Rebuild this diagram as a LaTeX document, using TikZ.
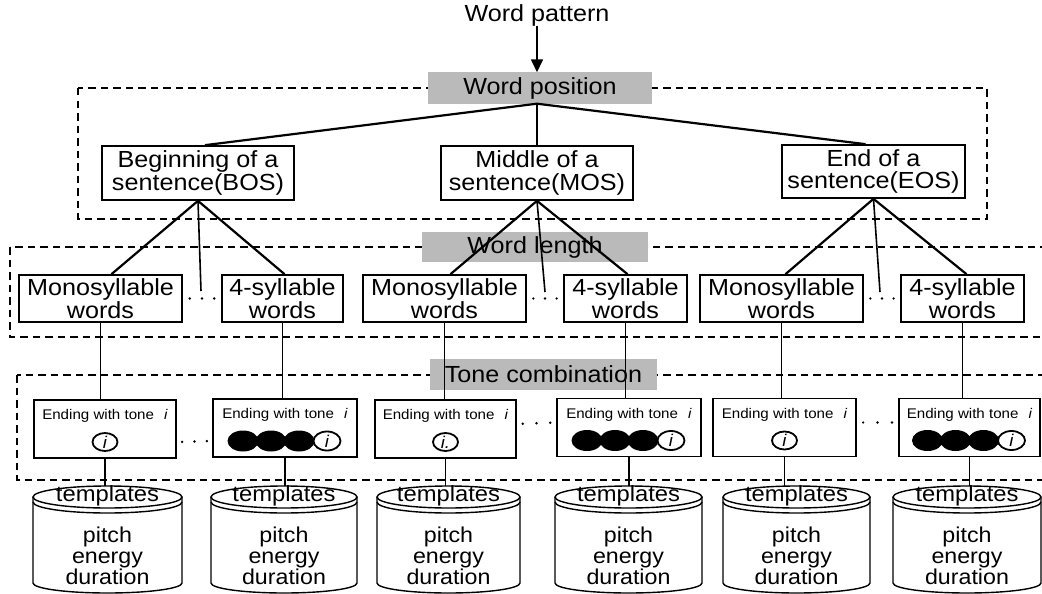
\documentclass[tikz,border=0pt]{standalone}
\usepackage{fontspec}
\setmainfont{Liberation Sans}[FakeStretch=1.08]
\usetikzlibrary{arrows.meta,calc}
\newcommand\dbcyl[3]{%
  \begin{scope}[shift={(#2,0)}]
    \fill[white] (-#3,497) -- (-#3,583) arc[start angle=180,end angle=0,x radius=#3,y radius=10] -- (#3,497) -- cycle;
    \draw[line width=1.4pt,fill=white] (0,497) ellipse [x radius=#3, y radius=11];
    \draw[line width=1.4pt] (-#3,497) -- (-#3,583) arc[start angle=180,end angle=0,x radius=#3,y radius=10] -- (#3,497);
    \draw[line width=1.4pt] (-#3,502) arc[start angle=180,end angle=0,x radius=#3,y radius=11];
  \end{scope}
  \coordinate (#1) at (#2,486);
  \node[cyltext, font=\fontsize{22}{21}\selectfont] (#1t) at (#2,496) {templates};
  \node[cyltext] (#1b) at (#2,556) {pitch\\energy\\duration};
}
\newcommand\onering[1]{%
  \draw[line width=1.8pt,fill=white] ($(#1.center)+(0,13)$) ellipse [x radius=12.5, y radius=9];
  \node[font=\fontsize{17}{17}\selectfont\itshape,inner sep=0pt] at ($(#1.center)+(0,13)$) {i};
}
\newcommand\fourring[1]{%
  \foreach \dx in {-42,-14,14} \fill ($(#1.center)+(\dx,13)$) ellipse [x radius=15.5, y radius=10.5];
  \draw[line width=1.8pt,fill=white] ($(#1.center)+(42,13)$) ellipse [x radius=13.5, y radius=9.5];
  \node[font=\fontsize{17}{17}\selectfont\itshape,inner sep=0pt] at ($(#1.center)+(42,13)$) {i};
}
\begin{document}
\begin{tikzpicture}[x=1pt,y=-1pt,
  lbl/.style={fill=black!27, inner sep=0pt, minimum height=31pt, font=\fontsize{23.3}{23}\selectfont},
  box/.style={draw, line width=1.7pt, inner sep=0pt, align=center, font=\fontsize{23.3}{20.5}\selectfont, fill=white},
  posbox/.style={box, font=\fontsize{23.3}{22.5}\selectfont},
  tbox/.style={draw, line width=1.7pt, minimum height=58pt, inner sep=0pt, fill=white},
  ttext/.style={font=\fontsize{14}{14}\selectfont, inner sep=0pt},
  cyltext/.style={font=\fontsize{21.5}{21}\selectfont, inner sep=0pt, align=center},
  grp/.style={line width=1.8pt, dash pattern=on 7.5pt off 5pt},
  conn/.style={line width=2.2pt},
  thinconn/.style={line width=1.6pt},
  smalldot/.style={circle, fill=black, inner sep=0pt, minimum size=2.6pt},
]
\clip (0,0) rectangle (1042,594);
% group frames
\draw[grp] (78,88) rectangle (987,219);
\draw[grp] (10,247) rectangle (1070,337);
\draw[grp] (17,375) rectangle (1070,480);
% top
\node[font=\fontsize{23.3}{23}\selectfont, inner sep=0pt] (wp) at (537,15) {Word pattern};
\node[lbl, minimum width=224pt] (pos) at (540,88) {Word position};
\draw[line width=1.5pt,-{Triangle[length=13pt,width=12pt]}] (wp.south -| 537,0) -- (pos.north -| 537,0);
% level 1
\node[posbox, minimum width=192pt, minimum height=54pt] (bos) at (198,173) {Beginning of a\\sentence(BOS)};
\node[posbox, minimum width=192pt, minimum height=54pt] (mos) at (537,173) {Middle of a\\sentence(MOS)};
\node[posbox, minimum width=183pt, minimum height=53pt] (eos) at (873.5,171.5) {End of a\\sentence(EOS)};
\draw[conn] (pos.south -| 537,0) -- ([xshift=7pt]bos.north);
\draw[conn] (pos.south -| 537,0) -- (mos.north);
\draw[conn] (pos.south -| 537,0) -- ([xshift=-8pt]eos.north);
% level 2
\node[lbl, minimum width=226pt, minimum height=30pt] (len) at (535,247) {Word length};
\node[box, minimum width=163pt, minimum height=47pt] (m1) at (100.5,298.5) {Monosyllable\\words};
\node[box, minimum width=121pt, minimum height=47pt] (f1) at (282.5,298.5) {4-syllable\\words};
\node[box, minimum width=163pt, minimum height=47pt] (m2) at (444.5,298.5) {Monosyllable\\words};
\node[box, minimum width=123pt, minimum height=47pt] (f2) at (625.5,298.5) {4-syllable\\words};
\node[box, minimum width=163pt, minimum height=47pt] (m3) at (781.5,298.5) {Monosyllable\\words};
\node[box, minimum width=123pt, minimum height=47pt] (f3) at (962.5,298.5) {4-syllable\\words};
\coordinate (d1) at (201,291);
\coordinate (d2) at (545,292);
\coordinate (d3) at (880,292);
\draw[conn] (bos.south) -- ([xshift=11pt]m1.north);
\draw[conn] (bos.south) -- ([xshift=2pt]f1.north);
\draw[thinconn] (bos.south) -- (d1);
\draw[conn] (mos.south) -- ([xshift=6pt]m2.north);
\draw[conn] (mos.south) -- ([xshift=2pt]f2.north);
\draw[thinconn] (mos.south) -- (d2);
\draw[conn] (eos.south) -- ([xshift=4pt]m3.north);
\draw[conn] (eos.south) -- ([xshift=4pt]f3.north);
\draw[thinconn] (eos.south) -- (d3);
\foreach \a/\b in {m1/f1,m2/f2,m3/f3}
  \foreach \f in {0.18,0.5,0.82}
    \node[smalldot] at ($(\a.east)!\f!(\b.west)$) {};
% level 3
\node[lbl, minimum width=227pt] (tone) at (543.5,374) {Tone combination};
\node[tbox, minimum width=142pt] (t1) at (105,429) {};
\node[tbox, minimum width=144pt] (t2) at (285,428) {};
\node[tbox, minimum width=141pt] (t3) at (445.5,429) {};
\node[tbox, minimum width=144pt] (t4) at (629,427.5) {};
\node[tbox, minimum width=143pt] (t5) at (784.5,427.5) {};
\node[tbox, minimum width=141pt] (t6) at (969.5,427.5) {};
\foreach \t in {t1,t2,t3,t4,t5,t6}
  \node[ttext] at ($(\t.center)+(0,-13)$) {Ending with tone\hspace{10pt}\textit{i}};
\onering{t1}
\fourring{t2}
\draw[line width=1.8pt,fill=white] ($(t3.center)+(0,13)$) ellipse [x radius=12.5, y radius=9];
\node[font=\fontsize{17}{17}\selectfont\itshape,inner sep=0pt] at ($(t3.center)+(0,13)$) {i.};
\fourring{t4}
\onering{t5}
\fourring{t6}
\foreach \m/\t in {m1/t1,f1/t2,m2/t3,f2/t4,m3/t5,f3/t6}
  \draw[thinconn] (\m.south) -- (\m.south |- \t.north);
\foreach \f in {0.15,0.5,0.85}
  \node[smalldot] at ($(t1.east)!\f!(t2.west)+(0,13)$) {};
\foreach \a/\b in {t3/t4,t5/t6}
  \foreach \f in {0.15,0.5,0.85}
    \node[smalldot] at ($(\a.east)!\f!(\b.west)+(0,-5)$) {};
% templates
\dbcyl{c1}{107.5}{74.5}
\dbcyl{c2}{284}{73}
\dbcyl{c3}{448.5}{71.5}
\dbcyl{c4}{628.5}{73.5}
\dbcyl{c5}{796.5}{73.5}
\dbcyl{c6}{967}{74}
\foreach \t/\c in {t1/c1,t2/c2,t3/c3,t4/c4,t5/c5,t6/c6}
  \draw[thinconn] (\t.south) -- (\t.south |- \c);
\end{tikzpicture}
\end{document}
